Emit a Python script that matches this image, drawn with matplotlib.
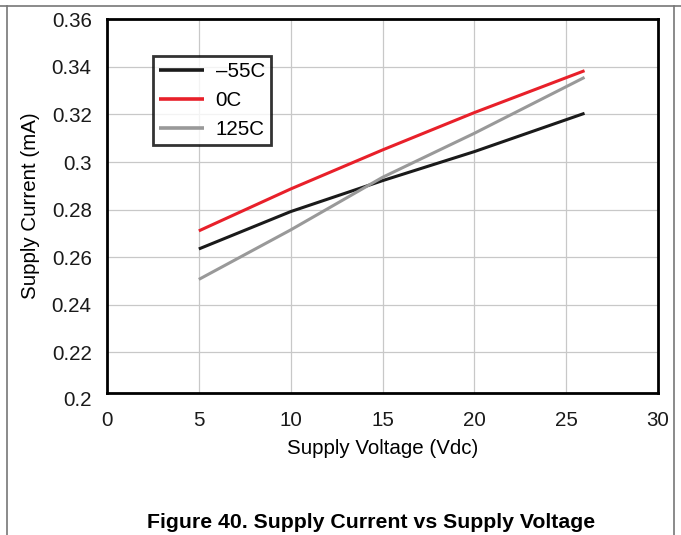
import matplotlib
matplotlib.use("Agg")
import matplotlib.pyplot as plt
from matplotlib.lines import Line2D

plt.rcParams['font.family'] = ['Liberation Sans', 'DejaVu Sans']

# supply voltage (Vdc) vs supply current (mA)
voltage = [5, 10, 15, 20, 26]
i_m55 = [0.2635, 0.2792, 0.2922, 0.3044, 0.3205]
i_0 = [0.2711, 0.2887, 0.3051, 0.3208, 0.3384]
i_125 = [0.2507, 0.2715, 0.2936, 0.3121, 0.3356]
labels = ["\u201355C", "0C", "125C"]
colors = ["#1a1a1a", "#e8202a", "#999999"]

xticks = [0, 5, 10, 15, 20, 25, 30]
yticks = [0.22, 0.24, 0.26, 0.28, 0.3, 0.32, 0.34, 0.36]

fs = 14.8

fig = plt.figure(figsize=(6.81, 5.35), dpi=100)
ax = fig.add_axes([107 / 681, 1 - 392.7 / 535, 551 / 681, 373.4 / 535])

for y, lab, c in zip([i_m55, i_0, i_125], labels, colors):
    ax.plot(voltage, y, color=c, lw=2.2, label=lab, solid_capstyle='butt')

ax.set_xlim(0, 30)
ax.set_ylim(0.2031, 0.36)
ax.set_xticks(xticks)
ax.set_yticks(yticks)
ax.set_yticklabels(["%g" % v for v in yticks])
ax.grid(True, color="#c8c8c8", lw=0.9)
ax.set_axisbelow(True)
ax.tick_params(length=0, labelsize=fs, colors="#1a1a1a")
ax.tick_params(axis='y', pad=11)
ax.tick_params(axis='x', pad=13)
for s in ax.spines.values():
    s.set_linewidth(2)
    s.set_color("black")

# 0.2 label sits below the clipped box in the original
ax.text(-0.0275, 0.2, "0.2", transform=ax.get_yaxis_transform(), ha='right',
        va='center', fontsize=fs, color="#1a1a1a", clip_on=False)

ax.set_xlabel("Supply Voltage (Vdc)", fontsize=fs, labelpad=6.5)
ax.set_ylabel("Supply Current (mA)", fontsize=fs, labelpad=8.5)

leg = ax.legend(loc='upper left', bbox_to_anchor=(0.0835, 0.902), fontsize=fs,
                frameon=True, fancybox=False, handlelength=2.2,
                labelspacing=0.48, borderpad=0.3, handletextpad=0.55,
                borderaxespad=0)
leg.get_frame().set_edgecolor("black")
leg.get_frame().set_linewidth(2)
for h in leg.get_lines():
    h.set_linewidth(2.6)

fig.text(371 / 681, 1 - 522 / 535, "Figure 40. Supply Current vs Supply Voltage",
         ha='center', va='center', fontsize=15.3, fontweight='bold')

# page frame
fc = "#777777"
fig.add_artist(Line2D([0, 1], [1 - 5.5 / 535] * 2, color=fc, lw=1.2))
fig.add_artist(Line2D([7.3 / 681] * 2, [0, 1 - 5.5 / 535], color=fc, lw=1.2))
fig.add_artist(Line2D([673.5 / 681] * 2, [0, 1 - 5.5 / 535], color=fc, lw=1.2))

fig.savefig("out.png", dpi=100)
